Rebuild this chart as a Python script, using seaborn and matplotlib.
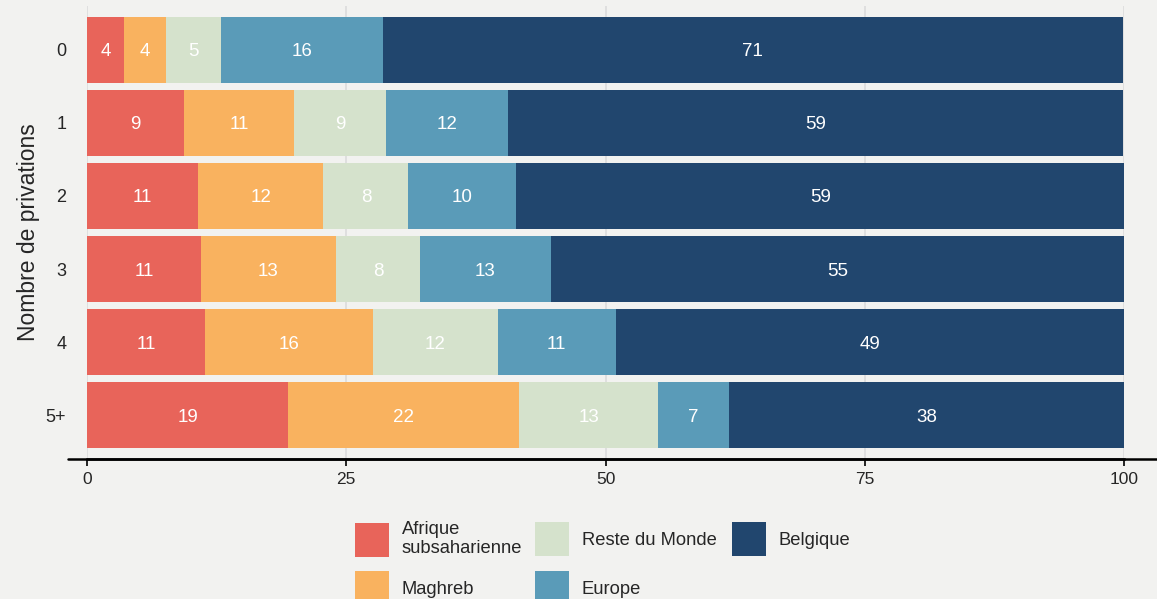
import matplotlib
matplotlib.use("Agg")
import matplotlib.pyplot as plt
import seaborn as sns
import pandas as pd
import numpy as np
from matplotlib.patches import Patch

categories = ["0", "1", "2", "3", "4", "5+"]
series_names = ["Afrique\nsubsaharienne", "Maghreb", "Reste du Monde", "Europe", "Belgique"]
afrique = [3.6, 9.4, 10.7, 11.0, 11.4, 19.4]
maghreb = [4.0, 10.6, 12.1, 13.0, 16.2, 22.3]
reste = [5.3, 8.8, 8.2, 8.1, 12.0, 13.4]
europe = [15.6, 11.8, 10.4, 12.6, 11.4, 6.8]
belgique = [71.4, 59.3, 58.6, 55.3, 49.1, 38.1]
xticks = [0, 25, 50, 75, 100]
colors = ["#e8645a", "#f9b25f", "#d5e2cc", "#5a9bb8", "#21466e"]

bg = "#f2f2f0"
sns.set_theme(style="white")
plt.rcParams["font.family"] = ["Liberation Sans", "DejaVu Sans"]

series = [afrique, maghreb, reste, europe, belgique]
cum = np.zeros(len(categories))
cums = []
for s in series:
    cum = cum + np.array(s)
    cums.append(cum.copy())

W, H = 1157, 599
fig = plt.figure(figsize=(W / 100, H / 100), dpi=100, facecolor=bg)
ax = fig.add_axes([87 / W, 1 - 459 / H, (1124 - 87) / W, (459 - 6) / H])
ax.set_facecolor(bg)

for i in range(len(series) - 1, -1, -1):
    d = pd.DataFrame({"cat": categories, "val": cums[i]})
    sns.barplot(data=d, y="cat", x="val", orient="h", color=colors[i],
                saturation=1, width=0.9, ax=ax, zorder=2, linewidth=0)

# value labels
for i, s in enumerate(series):
    left = cums[i] - np.array(s)
    for j, v in enumerate(s):
        ax.text(left[j] + v / 2, j, f"{v:.0f}", ha="center", va="center_baseline",
                color="white", fontsize=13.5, zorder=3)

ax.set_xlim(0, 100)
ax.set_ylim(5.6, -0.6)
ax.set_xticks(xticks)
ax.set_xticklabels([str(t) for t in xticks], fontsize=12.5)
ax.tick_params(axis="x", length=5, width=1.2, color="black", pad=4, bottom=True)
ax.tick_params(axis="y", length=0, labelsize=13, pad=15)
ax.xaxis.grid(True, color="#dcdcdc", linewidth=1.2, zorder=0)
ax.set_axisbelow(True)
for sp in ["top", "right", "left"]:
    ax.spines[sp].set_visible(False)
ax.spines["bottom"].set_color("black")
ax.spines["bottom"].set_linewidth(1.8)
ax.plot([-0.018, 1.04], [0, 0], transform=ax.transAxes, color="black",
        linewidth=1.8, clip_on=False, zorder=5)
ax.set_xlabel("")
ax.set_ylabel("Nombre de privations", fontsize=16.5, labelpad=4)

handles = [Patch(facecolor=c, edgecolor="none") for c in colors]
# (entry index, handle left x, row centre y) in pixels
legend_pos = [(0, 355, 539), (1, 355, 588), (2, 535, 539), (3, 535, 588), (4, 732, 539)]
common = dict(loc="center left", frameon=False, fontsize=13.2,
              handlelength=1.85, handleheight=2.47, handletextpad=0.71,
              borderpad=0, borderaxespad=0)
for k, x0, y0 in legend_pos:
    fig.legend([handles[k]], [series_names[k]],
               bbox_to_anchor=(x0 / W, 1 - y0 / H), **common)

fig.savefig("out.png", dpi=100, facecolor=bg)
